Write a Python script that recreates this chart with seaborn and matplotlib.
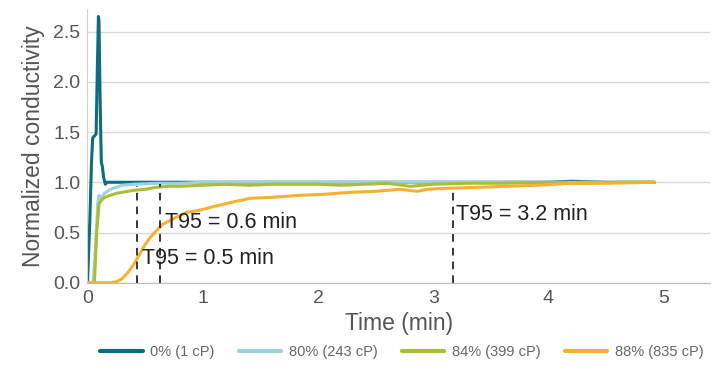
import numpy as np
import pandas as pd
import matplotlib.pyplot as plt
import seaborn as sns

# Series (time in minutes, normalized conductivity)
t_water = [0, 0.02, 0.035, 0.045, 0.06, 0.075, 0.085, 0.095, 0.1, 0.105, 0.11, 0.12, 0.13, 0.14,
           0.155, 0.17, 0.2, 0.3, 0.45, 0.6, 1.0, 1.5, 2.0, 2.5, 3.0, 3.5, 4.0, 4.2, 4.5, 4.92]
v_water = [0, 0.6, 1.2, 1.44, 1.46, 1.48, 2.1, 2.65, 2.6, 2.2, 1.8, 1.2, 1.15, 1.05,
           0.98, 1.0, 1.0, 1.0, 1.0, 1.0, 1.0, 1.0, 1.0, 1.0, 1.0, 1.0, 1.0, 1.01, 1.0, 1.0]

t_80 = [0.05, 0.07, 0.09, 0.1, 0.12, 0.14, 0.16, 0.2, 0.25, 0.3, 0.4, 0.6, 0.8, 1.0, 1.5,
        2.0, 2.5, 3.0, 3.5, 4.0, 4.5, 4.92]
v_80 = [0, 0.35, 0.8, 0.87, 0.84, 0.88, 0.9, 0.93, 0.95, 0.97, 0.98, 0.99, 0.99, 1.0, 1.0,
        1.0, 1.0, 1.0, 1.0, 1.0, 1.0, 1.0]

t_84 = [0.06, 0.08, 0.1, 0.12, 0.15, 0.2, 0.25, 0.3, 0.35, 0.4, 0.5, 0.6, 0.7, 0.8, 1.0, 1.2,
        1.4, 1.6, 1.8, 2.0, 2.2, 2.4, 2.6, 2.8, 3.0, 3.3, 3.6, 4.0, 4.3, 4.6, 4.92]
v_84 = [0, 0.5, 0.78, 0.82, 0.85, 0.87, 0.89, 0.9, 0.91, 0.92, 0.93, 0.95, 0.96, 0.96, 0.97, 0.98,
        0.97, 0.98, 0.98, 0.98, 0.97, 0.98, 0.99, 0.96, 0.98, 0.99, 0.99, 1.0, 0.99, 1.0, 1.0]

t_88 = [0, 0.2, 0.25, 0.3, 0.35, 0.4, 0.45, 0.5, 0.55, 0.6, 0.65, 0.75, 0.86, 0.97, 1.1, 1.25,
        1.41, 1.6, 1.84, 2.05, 2.28, 2.5, 2.71, 2.86, 2.95, 3.12, 3.4, 3.64, 3.9, 4.2, 4.5, 4.92]
v_88 = [0, 0, 0.01, 0.04, 0.1, 0.18, 0.28, 0.38, 0.46, 0.52, 0.58, 0.64, 0.7, 0.72, 0.76, 0.8,
        0.84, 0.85, 0.87, 0.88, 0.9, 0.91, 0.93, 0.91, 0.93, 0.94, 0.95, 0.96, 0.97, 0.99, 0.99, 1.0]

labels = ['0% (1 cP)', '80% (243 cP)', '84% (399 cP)', '88% (835 cP)']
colors = ['#0e6b80', '#9dd2dc', '#abbd36', '#f5b12f']

# T95 markers: time, curve height, annotation text and position
t95_x = [0.43, 0.63, 3.17]
t95_top = [0.96, 0.98, 0.93]
t95_text = ['T95 = 0.5 min', 'T95 = 0.6 min', 'T95 = 3.2 min']
t95_text_xy = [(0.47, 0.24), (0.67, 0.6), (3.2, 0.68)]

frames = []
for t, v, lab in zip([t_water, t_80, t_84, t_88], [v_water, v_80, v_84, v_88], labels):
    frames.append(pd.DataFrame({'time': t, 'value': v, 'series': lab}))
df = pd.concat(frames, ignore_index=True)

sns.set_style('white')
plt.rcParams['font.family'] = ['Liberation Sans', 'DejaVu Sans']

fig, ax = plt.subplots(figsize=(7.17, 3.76), dpi=100)
fig.subplots_adjust(left=0.122, right=0.99, top=0.975, bottom=0.248)

sns.lineplot(data=df, x='time', y='value', hue='series', palette=colors,
             hue_order=labels, linewidth=2.2, ax=ax, estimator=None, sort=False)

for x, top in zip(t95_x, t95_top):
    ax.plot([x, x], [0, top], color='black', linestyle=(0, (5, 4)), linewidth=1.1)
for txt, (x, y) in zip(t95_text, t95_text_xy):
    ax.text(x, y, txt, fontsize=15.5, color='#222222', va='center', ha='left')

ax.set_xlim(0, 5.4)
ax.set_ylim(0, 2.72)
ax.set_xticks([0, 1, 2, 3, 4, 5])
ax.set_yticks([0, 0.5, 1.0, 1.5, 2.0, 2.5])
ax.set_yticklabels(['0.0', '0.5', '1.0', '1.5', '2.0', '2.5'])
ax.yaxis.grid(True, color='#d9d9d9', linewidth=1)
ax.set_axisbelow(True)
for s in ['top', 'right']:
    ax.spines[s].set_visible(False)
ax.spines['left'].set_color('#d0d0d0')
ax.spines['bottom'].set_color('#bbbbbb')
ax.tick_params(axis='both', labelsize=14, colors='#555555', length=0, pad=5)
ax.set_xlabel('Time (min)', fontsize=16.5, color='#555555', labelpad=4)
ax.set_ylabel('Normalized conductivity', fontsize=16.5, color='#555555', labelpad=6)

ax.legend(loc='center', bbox_to_anchor=(0.505, -0.255), ncol=4, frameon=False,
          fontsize=10.5, labelcolor='#666666', handlelength=2.9, handletextpad=0.5,
          columnspacing=1.7)
for line in ax.get_legend().get_lines():
    line.set_linewidth(3)

fig.savefig('out.png', dpi=100)
